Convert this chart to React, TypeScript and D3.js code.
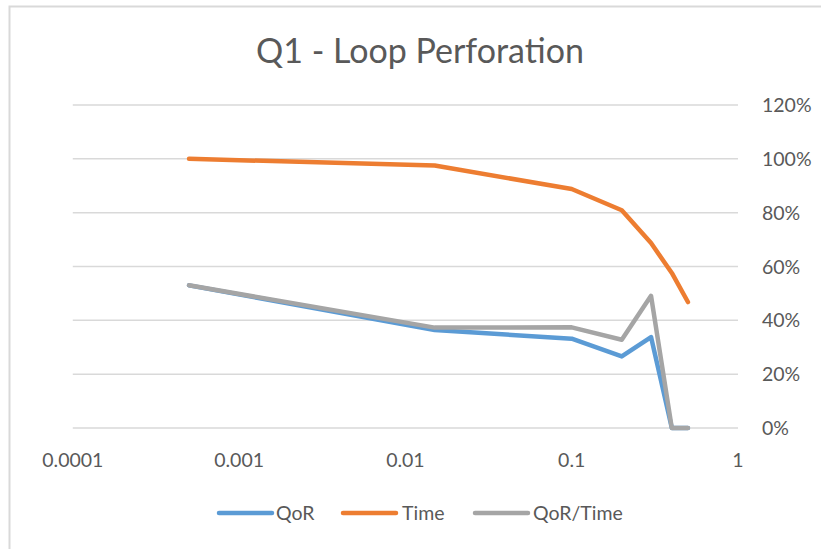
import React from "react";
import * as d3 from "d3";

const xValues = [0.0005, 0.015, 0.1, 0.2, 0.3, 0.4, 0.5];
const qorValues = [0.53, 0.364, 0.332, 0.266, 0.338, 0, 0];
const timeValues = [1.0, 0.975, 0.888, 0.809, 0.687, 0.576, 0.468];
const qorTimeValues = [0.53, 0.373, 0.374, 0.328, 0.491, 0, 0];
const xTicks = [0.0001, 0.001, 0.01, 0.1, 1];
const xTickLabels = ["0.0001", "0.001", "0.01", "0.1", "1"];
const yTicks = [0, 0.2, 0.4, 0.6, 0.8, 1.0, 1.2];
const seriesNames = ["QoR", "Time", "QoR/Time"];
const seriesColors = ["#5B9BD5", "#ED7D31", "#A5A5A5"];

const W = 821;
const H = 549;
const FONT = "Lato, 'Open Sans', sans-serif";
const TEXT = "#595959";

export default function App() {
  const x = d3.scaleLog().domain([0.0001, 1]).range([72.8, 738]);
  const y = d3.scaleLinear().domain([0, 1.2]).range([428, 105]);
  const series = [qorValues, timeValues, qorTimeValues];
  const line = d3
    .line<[number, number]>()
    .x((d) => x(d[0]))
    .y((d) => y(d[1]));

  const legendItems = [
    { lx: 219, tx: 276 },
    { lx: 343, tx: 402 },
    { lx: 475, tx: 533 },
  ];

  return (
    <svg
      width={W}
      height={H}
      style={{ position: "absolute", left: 0, top: 0, background: "#fff" }}
    >
      <rect x={9.5} y={6.5} width={W + 20} height={H + 20} fill="#fff" stroke="#D9D9D9" strokeWidth={2} />
      <text x={420} y={63} textAnchor="middle" fontFamily={FONT} fontSize={34} fill={TEXT}>
        Q1 - Loop Perforation
      </text>
      {yTicks.map((t) => (
        <g key={t}>
          <line x1={72.8} x2={738} y1={y(t)} y2={y(t)} stroke="#D9D9D9" strokeWidth={1.5} />
          <text x={762} y={y(t) + 7} fontFamily={FONT} fontSize={19.5} fill={TEXT}>
            {d3.format(".0%")(t)}
          </text>
        </g>
      ))}
      {xTicks.map((t, i) => (
        <text key={t} x={x(t)} y={467} textAnchor="middle" fontFamily={FONT} fontSize={19.5} fill={TEXT}>
          {xTickLabels[i]}
        </text>
      ))}
      {series.map((vals, si) => (
        <path
          key={si}
          d={line(xValues.map((xv, i) => [xv, vals[i]] as [number, number])) || ""}
          fill="none"
          stroke={seriesColors[si]}
          strokeWidth={4.5}
          strokeLinejoin="round"
          strokeLinecap="round"
        />
      ))}
      {seriesNames.map((name, i) => (
        <g key={name}>
          <line
            x1={legendItems[i].lx}
            x2={legendItems[i].lx + 53}
            y1={513}
            y2={513}
            stroke={seriesColors[i]}
            strokeWidth={4.5}
            strokeLinecap="round"
          />
          <text x={legendItems[i].tx} y={520} fontFamily={FONT} fontSize={19.5} fill={TEXT}>
            {name}
          </text>
        </g>
      ))}
    </svg>
  );
}
